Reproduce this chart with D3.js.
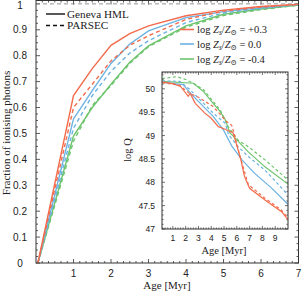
<!DOCTYPE html>
<html>
<head>
<meta charset="utf-8">
<script src="https://cdn.jsdelivr.net/npm/d3@7"></script>
<style>
  body { margin: 0; background: #fff; }
  svg { display: block; }
  .tick-label { font-family: "Liberation Sans", Arial, sans-serif; fill: #222; }
  .serif { font-family: "Liberation Serif", "DejaVu Serif", serif; fill: #222; }
</style>
</head>
<body>
<div id="chart"></div>
<script>
// main panel: cumulative fraction of ionising photons
const mainAges = [0.05, 1, 1.5, 2, 2.5, 3, 4, 5, 6, 7];
const redSolid   = [0, 0.646, 0.75, 0.84, 0.885, 0.915, 0.954, 0.976, 0.99, 0.998];
const redDashed  = [0, 0.60, 0.69, 0.78, 0.84, 0.877, 0.94, 0.972, 0.988, 0.998];
const blueSolid  = [0, 0.556, 0.665, 0.77, 0.845, 0.896, 0.947, 0.97, 0.985, 0.997];
const blueDashed = [0, 0.52, 0.646, 0.74, 0.81, 0.858, 0.928, 0.965, 0.983, 0.997];
const greenSolid = [0, 0.49, 0.60, 0.69, 0.775, 0.838, 0.915, 0.96, 0.98, 0.995];
const greenDashed= [0, 0.47, 0.608, 0.685, 0.77, 0.835, 0.91, 0.955, 0.978, 0.995];

// inset: log Q vs age, [age, logQ]
const qRedSolid = [[0.15,50.15],[1.0,50.11],[1.6,50.05],[2.2,49.84],[2.35,49.9],[2.75,49.69],[3.5,49.48],[4.0,49.37],[4.55,49.19],[4.95,49.15],[5.7,49.06],[5.9,48.88],[6.3,48.5],[6.6,48.12],[7.0,47.87],[8.2,47.62],[9.5,47.37],[10,47.2]];
const qRedDashed = [[0.15,50.13],[1.5,50.08],[2.3,49.9],[3.0,49.82],[4.15,49.62],[5.2,49.3],[5.6,49.22],[5.85,48.98],[6.25,48.55],[6.9,47.95],[8.2,47.66],[9.5,47.4],[10,47.23]];
const qBlueSolid = [[0.15,50.14],[1.8,50.09],[2.6,49.84],[3.4,49.62],[4.15,49.41],[4.95,49.12],[5.6,48.78],[6.4,48.48],[7.4,48.19],[8.7,47.88],[10,47.53]];
const qBlueDashed = [[0.15,50.17],[1.55,50.16],[2.35,49.98],[3.4,49.69],[4.15,49.48],[5.1,49.26],[5.35,49.02],[6.1,48.76],[6.9,48.55],[8.2,48.26],[10,47.73]];
const qGreenSolid = [[0.15,50.16],[2.6,50.12],[3.4,49.94],[4.15,49.69],[4.7,49.51],[5.1,49.34],[5.45,49.06],[5.85,48.95],[6.9,48.65],[8.2,48.33],[10,47.96]];
const qGreenDashed = [[0.15,50.22],[1.3,50.26],[2.0,50.2],[2.6,50.12],[3.4,49.98],[4.15,49.73],[4.7,49.55],[5.3,49.2],[6.1,48.9],[6.9,48.76],[8.2,48.48],[10,48.05]];

const mainXTicks = [1, 2, 3, 4, 5, 6, 7];
const mainYTicks = [0, 0.1, 0.2, 0.3, 0.4, 0.5, 0.6, 0.7, 0.8, 0.9, 1];
const insetXTicks = [1, 2, 3, 4, 5, 6, 7, 8, 9];
const insetYTicks = [47, 47.5, 48, 48.5, 49, 49.5, 50];
const metalLabels = ["+0.3", "0.0", "-0.4"];

const colors = { red: "#f26b4c", blue: "#6cb2e2", green: "#6dc46d" };

const width = 302, height = 292;
const svg = d3.select("#chart").append("svg").attr("width", width).attr("height", height);

const x = d3.scaleLinear().domain([0, 7]).range([36, 298.5]);
const y = d3.scaleLinear().domain([0, 1.013]).range([263, 0.5]);

// minor + major ticks, inward, on all sides
function ticksInward(g, scale, vals, len, side, other) {
  vals.forEach(v => {
    const p = scale(v);
    if (side === "x") {
      g.append("line").attr("x1", p).attr("x2", p).attr("y1", other[0]).attr("y2", other[0] - len);
      g.append("line").attr("x1", p).attr("x2", p).attr("y1", other[1]).attr("y2", other[1] + len);
    } else {
      g.append("line").attr("y1", p).attr("y2", p).attr("x1", other[0]).attr("x2", other[0] + len);
      g.append("line").attr("y1", p).attr("y2", p).attr("x1", other[1]).attr("x2", other[1] - len);
    }
  });
}

const mainTicks = svg.append("g").attr("stroke", "#333").attr("stroke-width", 0.8);
const xMinor = d3.range(0, 7.001, 1 / 6).filter(v => Math.abs(v - Math.round(v)) > 0.01);
const yMinor = d3.range(0, 1.001, 0.025).filter(v => Math.abs(v * 10 - Math.round(v * 10)) > 0.01);
ticksInward(mainTicks, x, mainXTicks, 4, "x", [263, 0.5]);
ticksInward(mainTicks, x, xMinor, 2, "x", [263, 0.5]);
ticksInward(mainTicks, y, mainYTicks, 4, "y", [36, 298.5]);
ticksInward(mainTicks, y, yMinor, 2, "y", [36, 298.5]);

// y = 1 reference line
svg.append("line")
  .attr("x1", x(0)).attr("x2", x(7)).attr("y1", y(1)).attr("y2", y(1))
  .attr("stroke", "#888").attr("stroke-width", 0.9).attr("stroke-dasharray", "4,3");

const mainLine = d3.line().x((d, i) => x(mainAges[i])).y(d => y(d));
const mainSeries = [
  [greenDashed, colors.green, true], [greenSolid, colors.green, false],
  [blueDashed, colors.blue, true], [blueSolid, colors.blue, false],
  [redDashed, colors.red, true], [redSolid, colors.red, false]
];
mainSeries.forEach(([vals, c, dashed]) => {
  svg.append("path").attr("d", mainLine(vals))
    .attr("fill", "none").attr("stroke", c).attr("stroke-width", 1.4)
    .attr("stroke-dasharray", dashed ? "4,3" : null);
});

svg.append("rect").attr("x", 36).attr("y", 0.5).attr("width", 262.5).attr("height", 262.5)
  .attr("fill", "none").attr("stroke", "#333").attr("stroke-width", 1);

// tick labels
svg.append("g").selectAll("text").data(mainXTicks).join("text")
  .attr("class", "tick-label").attr("font-size", 10).attr("text-anchor", "middle")
  .attr("x", d => x(d)).attr("y", 277).text(d => d);
svg.append("g").selectAll("text").data(mainYTicks).join("text")
  .attr("class", "tick-label").attr("font-size", 10).attr("text-anchor", "middle")
  .attr("x", 20).attr("y", d => Math.max(y(d) + 3.5, 8.5)).text(d => d);

svg.append("text").attr("class", "serif").attr("font-size", 11).attr("text-anchor", "middle")
  .attr("x", 167).attr("y", 289).text("Age [Myr]");
svg.append("text").attr("class", "serif").attr("font-size", 11).attr("text-anchor", "middle")
  .attr("transform", "translate(10,133) rotate(-90)").text("Fraction of ionising photons");

// linestyle legend
const styleLegend = [["Geneva HML", null, 14], ["PARSEC", "4,3", 25.5]];
styleLegend.forEach(([label, dash, ly]) => {
  svg.append("line").attr("x1", 46).attr("x2", 65).attr("y1", ly).attr("y2", ly)
    .attr("stroke", "#111").attr("stroke-width", 1.4).attr("stroke-dasharray", dash);
  svg.append("text").attr("class", "serif").attr("font-size", 11.2)
    .attr("x", 67).attr("y", ly + 3.8).text(label);
});

// metallicity legend
const colorLegend = [[colors.red, 29.5], [colors.blue, 44], [colors.green, 59]];
colorLegend.forEach(([c, ly], i) => {
  svg.append("line").attr("x1", 180).attr("x2", 194).attr("y1", ly).attr("y2", ly)
    .attr("stroke", c).attr("stroke-width", 1.6);
  const t = svg.append("text").attr("class", "serif").attr("font-size", 10.5)
    .attr("x", 197).attr("y", ly + 3.6);
  t.append("tspan").text("log ");
  t.append("tspan").attr("font-style", "italic").text("Z");
  t.append("tspan").attr("font-size", 7.5).attr("dy", 2).attr("font-style", "italic").text("s");
  t.append("tspan").attr("dy", -2).text("/");
  t.append("tspan").attr("font-style", "italic").text("Z");
  t.append("tspan").attr("font-size", 7.5).attr("dy", 2).text("\u2299");
  t.append("tspan").attr("dy", -2).text(" = " + metalLabels[i]);
});

// inset
const ix = d3.scaleLinear().domain([0.15, 10]).range([162, 288]);
const iy = d3.scaleLinear().domain([47, 50.36]).range([229, 72]);

svg.append("rect").attr("x", 162).attr("y", 72).attr("width", 126).attr("height", 157)
  .attr("fill", "#fff");

const insetTicks = svg.append("g").attr("stroke", "#333").attr("stroke-width", 0.7);
const ixMinor = d3.range(0.2, 10.001, 0.2).filter(v => Math.abs(v - Math.round(v)) > 0.01);
const iyMinor = d3.range(47, 50.36, 0.1).filter(v => Math.abs(v * 2 - Math.round(v * 2)) > 0.01);
ticksInward(insetTicks, ix, insetXTicks, 3, "x", [229, 72]);
ticksInward(insetTicks, ix, ixMinor, 1.6, "x", [229, 72]);
ticksInward(insetTicks, iy, insetYTicks, 3, "y", [162, 288]);
ticksInward(insetTicks, iy, iyMinor, 1.6, "y", [162, 288]);

const qLine = d3.line().x(d => ix(d[0])).y(d => iy(d[1]));
const insetSeries = [
  [qGreenDashed, colors.green, true], [qGreenSolid, colors.green, false],
  [qBlueDashed, colors.blue, true], [qBlueSolid, colors.blue, false],
  [qRedDashed, colors.red, true], [qRedSolid, colors.red, false]
];
insetSeries.forEach(([vals, c, dashed]) => {
  svg.append("path").attr("d", qLine(vals))
    .attr("fill", "none").attr("stroke", c).attr("stroke-width", 1.2)
    .attr("stroke-dasharray", dashed ? "3,2.5" : null);
});

svg.append("rect").attr("x", 162).attr("y", 72).attr("width", 126).attr("height", 157)
  .attr("fill", "none").attr("stroke", "#333").attr("stroke-width", 1);

svg.append("g").selectAll("text").data(insetXTicks).join("text")
  .attr("class", "tick-label").attr("font-size", 8.5).attr("text-anchor", "middle")
  .attr("x", d => ix(d)).attr("y", 241).text(d => d);
svg.append("g").selectAll("text").data(insetYTicks).join("text")
  .attr("class", "tick-label").attr("font-size", 8.5).attr("text-anchor", "end")
  .attr("x", 155).attr("y", d => iy(d) + 3).text(d => d);

svg.append("text").attr("class", "serif").attr("font-size", 10.5).attr("text-anchor", "middle")
  .attr("x", 224).attr("y", 254).text("Age [Myr]");
svg.append("text").attr("class", "serif").attr("font-size", 10.5).attr("text-anchor", "middle")
  .attr("transform", "translate(131,150) rotate(-90)").text("log Q");
</script>
</body>
</html>
